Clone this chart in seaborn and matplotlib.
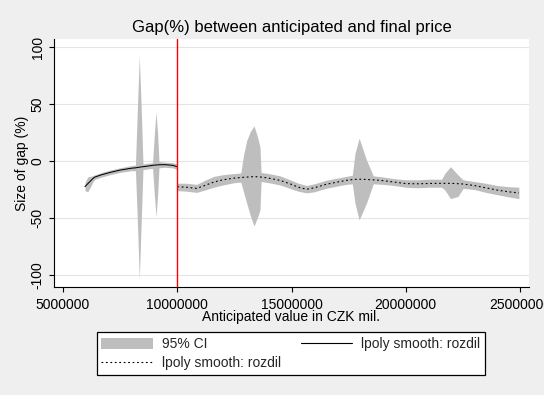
import numpy as np
import pandas as pd
import matplotlib
matplotlib.use("Agg")
import matplotlib.pyplot as plt
from matplotlib.patches import Patch
from matplotlib.lines import Line2D
import seaborn as sns

# ---------------------- Data (CZK mil. in millions) ----------------------

# left smooth: values below the 10 000 000 cut-off
left_x = [5.96, 6.08, 6.18, 6.30, 6.40, 6.70, 7.06, 7.49, 8.00, 8.17, 8.26, 8.34, 8.42, 8.50,
          8.70, 8.92, 9.00, 9.07, 9.14, 9.20, 9.46, 9.80, 10.0]
left_fit = [-22.5, -20, -18, -15.5, -14, -12, -10, -8, -6.3, -6, -5.7, -5.4, -5.2, -5,
            -4.5, -3.8, -3.6, -3.5, -3.4, -3.3, -3.2, -3.8, -5]
left_lo = [-26, -27, -23.5, -18.5, -16, -14, -12, -10, -8.5, -8.5, -55, -103.5, -55, -7.5,
           -7, -6.5, -30, -49, -30, -6, -5.5, -6, -7.5]
left_hi = [-19, -14, -13.5, -13, -12, -10, -8, -6, -4, -3.5, 48, 92, 48, -2.5,
           -2, -1.5, 24, 43, 24, -0.5, -1, -1.5, -2.5]

# right smooth: values above the cut-off
right_x = [10.0, 10.4, 10.85, 11.2, 11.6, 12.0, 12.5, 12.78, 12.9, 13.04, 13.2, 13.36, 13.5,
           13.62, 13.67, 14.0, 14.5, 15.0, 15.3, 15.66, 16.0, 16.5, 17.0, 17.4, 17.66,
           17.78, 17.96, 18.28, 18.58, 19.0, 19.5, 20.0, 20.5, 21.0, 21.57, 21.71, 21.96,
           22.29, 22.51, 23.0, 23.5, 24.0, 24.5, 24.95]
right_fit = [-22.5, -23, -24, -21.5, -18.5, -16.5, -15, -14.5, -14.3, -14.1, -13.9, -13.7, -13.8,
             -14.0, -14.1, -15, -17, -20.5, -23, -24.8, -23.5, -20.5, -18.5, -17, -16.3,
             -16.1, -16, -16.2, -16.5, -17.2, -18.5, -19.8, -20, -19.7, -19.6, -19.6, -19.6,
             -19.9, -20.2, -21.5, -23.5, -25.5, -27, -28]
right_lo = [-26, -26.5, -27.5, -25.5, -23, -21, -19, -18.5, -27, -37, -48, -57, -50,
            -43, -18, -19, -21, -24.5, -26.5, -28, -27, -24, -22, -20.5, -20,
            -37, -51.7, -37, -20, -20.5, -21.5, -23, -23.5, -23, -23, -25.4, -33,
            -31, -24, -25, -27.5, -29.5, -31.5, -33]
right_hi = [-19.5, -19.5, -20.5, -17, -13.5, -12, -11, -10.5, 5, 18, 26, 30.7, 22,
            12.5, -10, -11, -13, -17, -19.5, -21.5, -20, -17, -15, -13.5, -12.5,
            6.7, 20, 0.9, -13, -14, -15.5, -16.5, -16.5, -16, -16, -10.8, -5,
            -12.3, -16.5, -18, -19.5, -21.5, -22.5, -23]

cutoff = 10.0
x_ticks = [5, 10, 15, 20, 25]
y_ticks = [-100, -50, 0, 50, 100]

# ---------------------- Plot ----------------------

sns.set_theme(style="white")
plt.rcParams["font.family"] = ["Liberation Sans", "DejaVu Sans"]
plt.rcParams["axes.unicode_minus"] = False

bg = "#efefef"
ci_color = "#bebebe"
dots = (0, (1.6, 2.4))

left = pd.DataFrame({"x": np.array(left_x) * 1e6, "fit": left_fit, "lo": left_lo, "hi": left_hi})
right = pd.DataFrame({"x": np.array(right_x) * 1e6, "fit": right_fit, "lo": right_lo, "hi": right_hi})

fig = plt.figure(figsize=(5.44, 3.95), dpi=100, facecolor=bg)
ax = fig.add_axes([54 / 544, 1 - 287 / 395, 475 / 544, 248 / 395])
ax.set_facecolor("white")

for y in y_ticks:
    ax.axhline(y, color="#e4e4e4", linewidth=0.8, zorder=0)

ax.fill_between(left["x"], left["lo"], left["hi"], color=ci_color, linewidth=0, zorder=1)
ax.fill_between(right["x"], right["lo"], right["hi"], color=ci_color, linewidth=0, zorder=1)

sns.lineplot(data=left, x="x", y="fit", ax=ax, color="black", linewidth=0.75,
             estimator=None, zorder=3)
sns.lineplot(data=right, x="x", y="fit", ax=ax, color="black", linewidth=0.8,
             linestyle=dots, estimator=None, zorder=3)

ax.axvline(cutoff * 1e6, color="#ff0000", linewidth=1.0, snap=True, zorder=4)

ax.set_xlim(4.606e6, 25.394e6)
ax.set_ylim(-110.5, 107)
ax.set_xticks([t * 1e6 for t in x_ticks])
ax.set_xticklabels([str(t * 1000000) for t in x_ticks])
ax.set_yticks(y_ticks)
ax.set_yticklabels([str(t) for t in y_ticks])

ax.tick_params(axis="both", direction="out", length=3.8, width=0.8, color="black",
               labelsize=10, labelcolor="black", bottom=True, left=True)
ax.tick_params(axis="x", pad=4)
ax.tick_params(axis="y", pad=3)
for lab in ax.get_yticklabels():
    lab.set_rotation(90)
    lab.set_va("center")

for side in ["top", "right"]:
    ax.spines[side].set_visible(False)
for side in ["left", "bottom"]:
    ax.spines[side].set_color("black")
    ax.spines[side].set_linewidth(0.8)

ax.set_title("Gap(%) between anticipated and final price", fontsize=12, color="black", pad=5)
ax.set_xlabel("Anticipated value in CZK mil.", fontsize=10, color="black", labelpad=-1)
ax.set_ylabel("Size of gap (%)", fontsize=10, color="black", labelpad=1)

handles = [
    Patch(facecolor=ci_color, edgecolor="none", label="95% CI"),
    Line2D([], [], color="black", linewidth=0.8, linestyle=dots, label="lpoly smooth: rozdil"),
    Line2D([], [], color="black", linewidth=0.8, label="lpoly smooth: rozdil"),
]
leg = fig.legend(handles=handles, ncol=2, loc="center", bbox_to_anchor=(291 / 544, 1 - 353.5 / 395),
                 fontsize=10, frameon=True, fancybox=False, framealpha=1, edgecolor="black",
                 facecolor="white", handlelength=3.7, handleheight=0.9, handletextpad=0.65,
                 columnspacing=1.45, labelspacing=0.35, borderpad=0.35, borderaxespad=0)
leg.get_frame().set_linewidth(0.9)

fig.savefig("out.png", dpi=100, facecolor=bg)
